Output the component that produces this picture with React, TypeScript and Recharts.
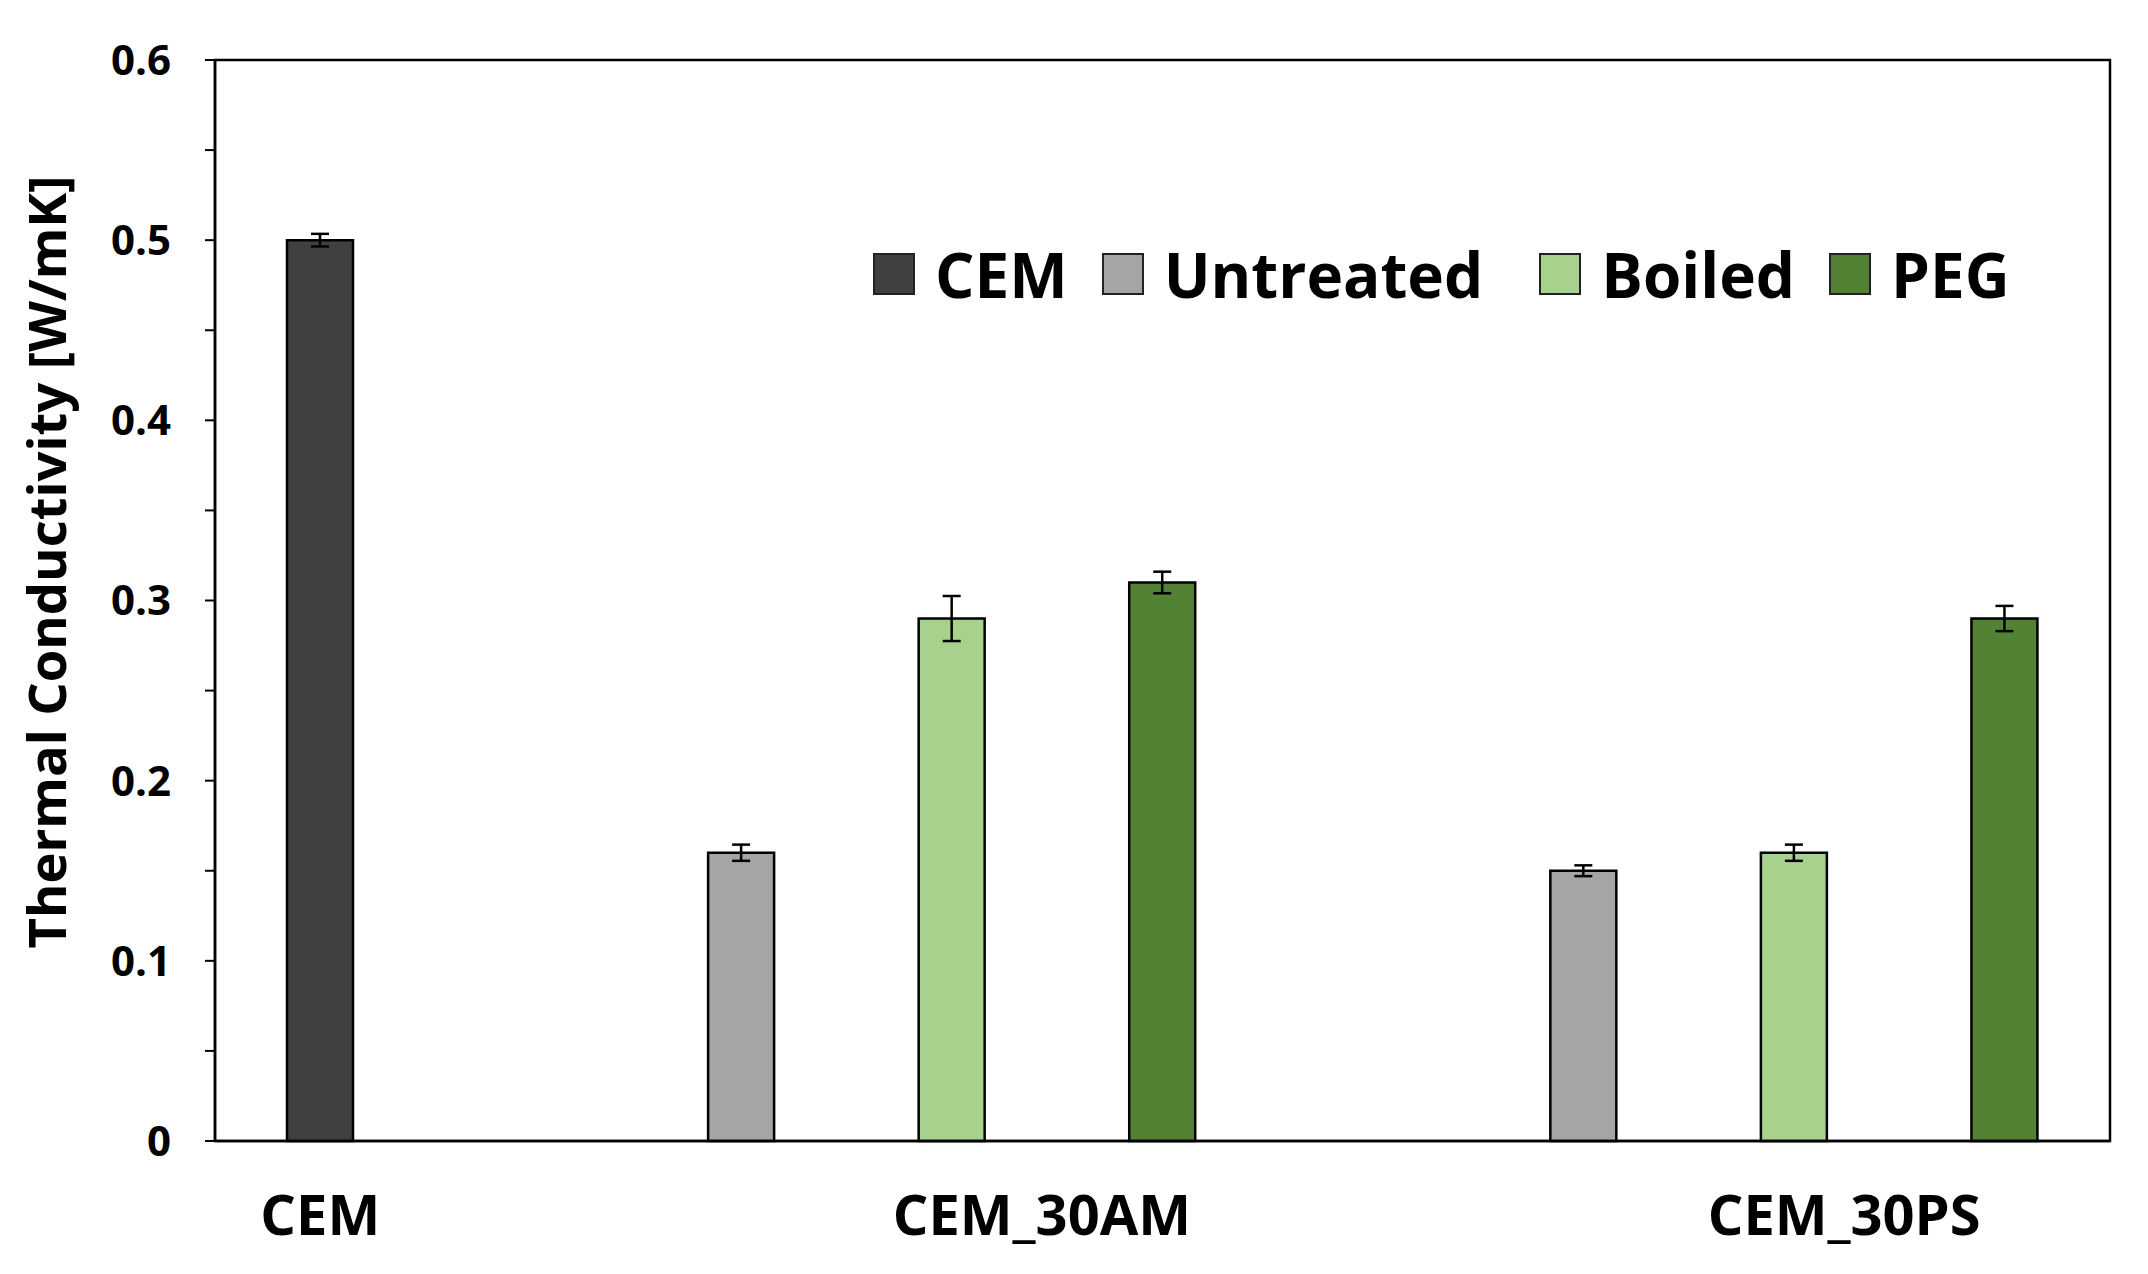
import { Bar, BarChart, Cell, ErrorBar, Legend, ReferenceArea, XAxis, YAxis } from "recharts";

const FONT = "'Open Sans', 'Noto Sans', sans-serif";

const groups = ["CEM", "CEM_30AM", "CEM_30PS"];
const seriesNames = ["CEM", "Untreated", "Boiled", "PEG"];
const seriesColors = ["#404040", "#a5a5a5", "#a9d18e", "#548235"];

// one entry per group (CEM, CEM_30AM, CEM_30PS); null = no bar
const cemValues = [0.5, null, null];
const untreatedValues = [null, 0.16, 0.15];
const boiledValues = [null, 0.29, 0.16];
const pegValues = [null, 0.31, 0.29];

const cemErrors = [0.0035, null, null];
const untreatedErrors = [null, 0.0045, 0.003];
const boiledErrors = [null, 0.0125, 0.0045];
const pegErrors = [null, 0.006, 0.007];

const yTicks = [0, 0.05, 0.1, 0.15, 0.2, 0.25, 0.3, 0.35, 0.4, 0.45, 0.5, 0.55, 0.6];

// group labels are free text boxes in the original, nudged right of the middle bar
const LABEL_DX = [0, 90, 50];
// spacing after each legend entry (the original has a wider gap before "Boiled")
const LEGEND_GAP = [34, 56, 34, 0];

type Slot = {
  key: string;
  value: number | null;
  err: number | null;
  color: string;
  label: string;
  group: number;
};

const valueCols = [cemValues, untreatedValues, boiledValues, pegValues];
const errorCols = [cemErrors, untreatedErrors, boiledErrors, pegErrors];

const slots: Slot[] = [];
groups.forEach((g, gi) => {
  const items = seriesNames
    .map((s, si) => ({ si, v: valueCols[si][gi], e: errorCols[si][gi] }))
    .filter((d) => d.v != null);
  const mid = Math.floor(items.length / 2);
  items.forEach((d, k) => {
    slots.push({
      key: `${g}-${seriesNames[d.si]}`,
      value: d.v,
      err: d.e,
      color: seriesColors[d.si],
      label: k === mid ? g : "",
      group: gi,
    });
  });
  if (gi < groups.length - 1) {
    slots.push({ key: `gap-${gi}`, value: null, err: null, color: "none", label: "", group: gi });
  }
});

function XTick(props: any) {
  const { x, y, payload } = props;
  const slot = slots.find((s) => s.key === payload.value);
  if (!slot || !slot.label) return <g />;
  return (
    <text
      x={x + LABEL_DX[slot.group]}
      y={y}
      dy={94}
      textAnchor="middle"
      fontSize={56}
      fontWeight={700}
      fontFamily={FONT}
      fill="#000"
    >
      {slot.label}
    </text>
  );
}

function YTitle() {
  return (
    <text
      x={37}
      y={554}
      transform="rotate(-90 37 554)"
      textAnchor="middle"
      dominantBaseline="central"
      fontSize={52}
      fontWeight={700}
      fontFamily={FONT}
      fill="#000"
      textLength={773}
      lengthAdjust="spacingAndGlyphs"
    >
      Thermal Conductivity [W/mK]
    </text>
  );
}

function LegendContent() {
  return (
    <div style={{ display: "flex", alignItems: "center", fontFamily: FONT, fontWeight: 700, fontSize: 62, lineHeight: 1 }}>
      {seriesNames.map((name, i) => (
        <div key={name} style={{ display: "flex", alignItems: "center", marginRight: LEGEND_GAP[i] }}>
          <span
            style={{
              width: 38,
              height: 38,
              background: seriesColors[i],
              border: "2px solid #222",
              marginRight: 20,
              display: "inline-block",
            }}
          />
          <span>{name}</span>
        </div>
      ))}
    </div>
  );
}

const fmtY = (v: number) => (Math.round(v * 100) % 10 === 0 ? String(Number(v.toFixed(1))) : "");

export default function App() {
  return (
    <div style={{ width: 2132, height: 1258, position: "relative", background: "#fff" }}>
      <BarChart width={2132} height={1258} data={slots} margin={{ top: 52, right: 30, left: 0, bottom: 0 }} barSize={66}>
        <XAxis
          dataKey="key"
          height={125}
          interval={0}
          tickLine={false}
          tickSize={0}
          tickMargin={0}
          tick={<XTick />}
          axisLine={{ stroke: "#000", strokeWidth: 2.5 }}
        />
        <YAxis
          domain={[0, 0.6]}
          ticks={yTicks}
          interval={0}
          width={207}
          tickSize={10}
          tickMargin={34}
          axisLine={{ stroke: "#000", strokeWidth: 2.5 }}
          tickLine={{ stroke: "#000", strokeWidth: 2 }}
          tickFormatter={fmtY}
          tick={{ fontSize: 42, fontWeight: 700, fill: "#000", fontFamily: FONT }}
          label={{ content: YTitle }}
        />
        <ReferenceArea
          x1={slots[0].key}
          x2={slots[slots.length - 1].key}
          y1={0}
          y2={0.6}
          fill="none"
          stroke="#000"
          strokeWidth={2.5}
        />
        <Bar dataKey="value" isAnimationActive={false} stroke="#000" strokeWidth={2.5}>
          {slots.map((s) => (
            <Cell key={s.key} fill={s.color} />
          ))}
          <ErrorBar dataKey="err" direction="y" width={9} stroke="#000" strokeWidth={2.5} />
        </Bar>
        <Legend
          layout="horizontal"
          verticalAlign="middle"
          align="center"
          wrapperStyle={{ left: 865, top: 235, width: 1300, height: "auto" }}
          content={LegendContent}
        />
      </BarChart>
    </div>
  );
}
